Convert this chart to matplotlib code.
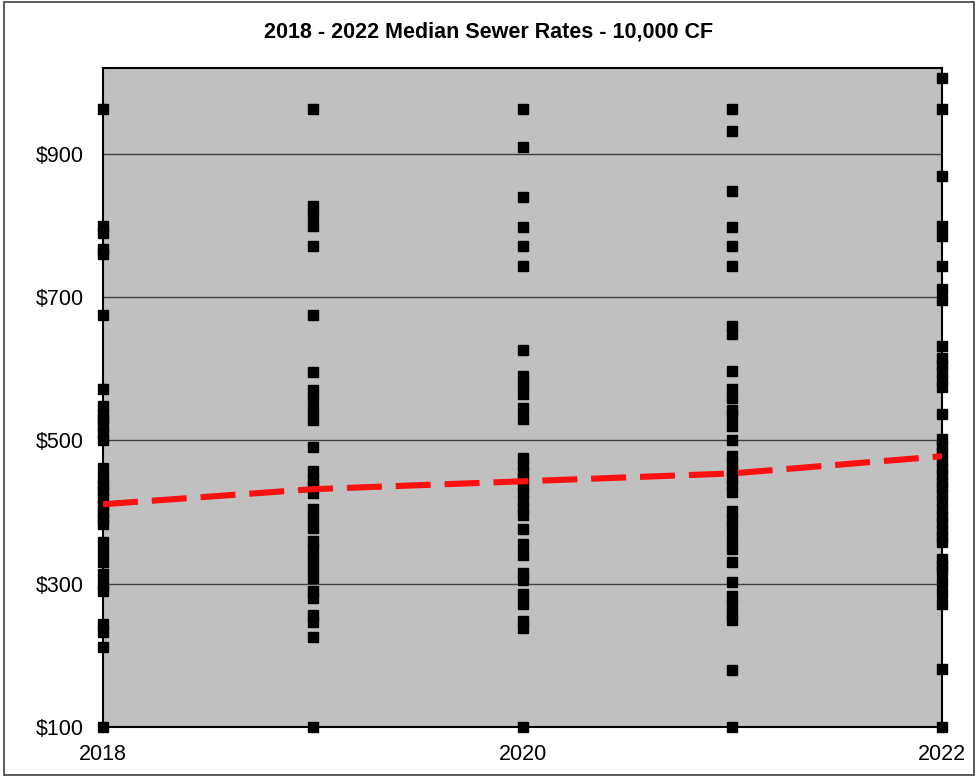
import numpy as np
import matplotlib.pyplot as plt
from matplotlib.patches import Rectangle

plt.rcParams['font.family'] = ['Liberation Sans', 'DejaVu Sans']

# values, per year
rates_2018 = [963, 800, 790, 768, 760, 675, 572, 548, 535, 530, 520, 510, 500, 462,
              447, 438, 430, 420, 410, 400, 392, 383, 358, 344, 330, 313, 300, 290,
              244, 233, 212, 100]
rates_2019 = [963, 828, 815, 800, 772, 675, 596, 570, 558, 543, 528, 491, 458, 446,
              436, 426, 405, 392, 378, 360, 348, 336, 322, 308, 290, 280, 256, 246,
              226, 100]
rates_2020 = [963, 910, 840, 798, 772, 744, 626, 590, 577, 565, 545, 530, 476, 466,
              456, 446, 436, 426, 416, 406, 396, 376, 355, 340, 315, 305, 285, 272,
              248, 238, 100]
rates_2021 = [963, 932, 848, 798, 772, 744, 660, 648, 597, 572, 560, 543, 535, 520,
              500, 478, 468, 458, 448, 438, 428, 402, 390, 378, 362, 348, 330, 303,
              283, 270, 258, 250, 180, 100]
rates_2022 = [1006, 963, 869, 800, 785, 744, 711, 696, 632, 615, 605, 595, 585, 575,
              537, 502, 492, 482, 472, 462, 452, 442, 435, 425, 415, 405, 395, 385,
              375, 365, 358, 335, 325, 318, 302, 287, 272, 181, 100]

years = [2018, 2019, 2020, 2021, 2022]
medians = [411, 432, 443, 454, 478]
all_rates = [rates_2018, rates_2019, rates_2020, rates_2021, rates_2022]

fig = plt.figure(figsize=(9.78, 7.77), dpi=100)
ax = fig.add_axes([103 / 978, 1 - 727 / 777, (942 - 103) / 978, (727 - 68) / 777])
ax.set_facecolor('#C0C0C0')

for yr, vals in zip(years, all_rates):
    ax.plot([yr] * len(vals), vals, linestyle='', marker='s', markersize=7,
            color='black', clip_on=False, zorder=3)

ax.plot(years, medians, color='#FF1010', linewidth=4.4, zorder=4,
        dashes=(25.2 / 4.4, 10 / 4.4))

ax.set_xlim(2018, 2022)
ax.set_ylim(100, 1020)
ax.set_xticks([2018, 2020, 2022])
ax.set_yticks([100, 300, 500, 700, 900])
ax.set_yticklabels([f'${v}' for v in [100, 300, 500, 700, 900]])
ax.tick_params(length=0, labelsize=15.5)
ax.tick_params(axis='y', pad=14)
ax.tick_params(axis='x', pad=12)
ax.grid(axis='y', color='#404040', linewidth=1)
ax.set_axisbelow(True)
for s in ax.spines.values():
    s.set_linewidth(1.5)
    s.set_color('black')

fig.text(0.5, 1 - 32 / 777, '2018 - 2022 Median Sewer Rates - 10,000 CF',
         ha='center', va='center', fontsize=15.5, fontweight='bold')

# outer chart border
fig.patches.append(Rectangle((0.004, 0.003), 0.992, 0.994, transform=fig.transFigure,
                             fill=False, edgecolor='#404040', linewidth=1.2))

fig.savefig('out.png', dpi=100)
